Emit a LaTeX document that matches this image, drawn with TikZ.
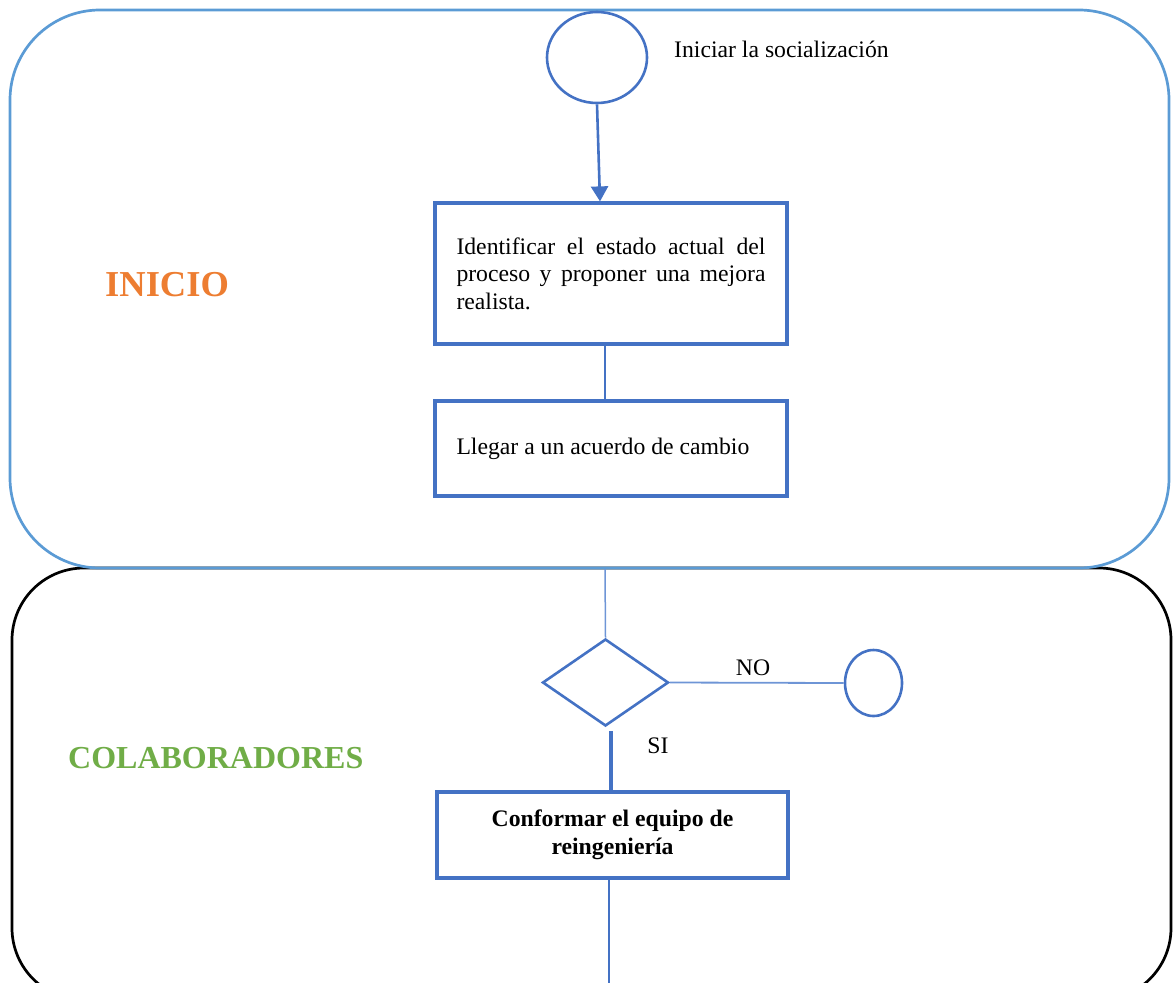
\documentclass[tikz,border=0pt]{standalone}
\usepackage{fontspec}
\setmainfont{Liberation Serif}
\usetikzlibrary{shapes.geometric,arrows.meta}

\definecolor{flowblue}{HTML}{4472C4}
\definecolor{laneblue}{HTML}{5B9BD5}
\definecolor{thinblue}{HTML}{6E95D6}
\definecolor{titleorange}{HTML}{ED7D31}
\definecolor{titlegreen}{HTML}{70AD47}

\tikzset{
  lanebox/.style={line width=2.7pt, rounded corners=#1},
  stepbox/.style={draw=flowblue, line width=3.2pt, rectangle, inner sep=0pt,
    minimum width=352pt, font=\fontsize{23.7}{27.5}\selectfont},
  terminal/.style={draw=flowblue, line width=2.6pt, ellipse, inner sep=0pt},
  decision/.style={draw=flowblue, line width=2.6pt, diamond, inner sep=0pt,
    minimum width=126pt, minimum height=87pt},
  plain/.style={font=\fontsize{23.7}{27.5}\selectfont, inner sep=0pt},
  flow/.style={draw=flowblue, line width=2.6pt},
  thinflow/.style={draw=thinblue, line width=1.5pt},
  lanetitle/.style={font=\fontsize{#1}{#1}\selectfont\bfseries, inner sep=0pt, anchor=base west}
}

\begin{document}
\begin{tikzpicture}[x=1pt, y=-1pt]
  \useasboundingbox (0,0) rectangle (1174,982);

  % swimlanes (the lower one runs past the bottom edge)
  \draw[lanebox=72pt, black] (12,568) rectangle (1171,1000);
  \draw[lanebox=90pt, laneblue] (10,10) rectangle (1169,568);

  % lane titles
  \node[lanetitle=36.5, text=titleorange] (tInicio) at (105,296) {INICIO};
  \node[lanetitle=32, text=titlegreen] (tColab) at (68,768) {COLABORADORES};

  % start
  \node[terminal, minimum width=100pt, minimum height=91pt] (start) at (597,57.5) {};
  \node[plain, anchor=base west] (startLbl) at (674,57) {Iniciar la socialización};

  % process steps
  \node[stepbox, minimum height=141pt, text width=309pt, align=justify] (ident) at (611,273.5)
    {Identificar el estado actual del proceso y proponer una mejora realista.};
  \node[stepbox, minimum height=95pt, text width=309pt, align=flush left] (acuerdo) at (611,448.5)
    {Llegar a un acuerdo de cambio};

  % decision
  \coordinate (laneEdge) at (605,569);
  \node[decision] (dec) at (605.5,682.5) {};
  \node[terminal, minimum width=57pt, minimum height=66pt] (stop) at (873.5,683) {};
  \node[plain] (noLbl) at (753,668) {NO};
  \node[plain] (siLbl) at (658,746) {SI};

  \coordinate (siTop) at (611,731);
  \node[stepbox, minimum width=351pt, minimum height=86pt, align=center,
        font=\fontsize{23.7}{27.5}\selectfont\bfseries] (equipo) at (612.5,835)
    {Conformar el equipo de\\reingeniería};
  \coordinate (down) at (609,990);

  % connectors
  \draw[flow, line width=2.6pt, -{Triangle[width=17pt,length=15pt]}]
    (start.south) -- (ident.north -| 600,0);
  \draw[flow] (ident.south -| 605,0) -- (acuerdo.north -| 605,0);
  \draw[thinflow] (laneEdge) -- (dec.north);
  \draw[thinflow, line width=1.8pt] (dec.east) -- (stop.west);
  \draw[flow, line width=4.5pt] (siTop) -- (equipo.north -| siTop);
  \draw[flow] (equipo.south -| down) -- (down);
\end{tikzpicture}
\end{document}
